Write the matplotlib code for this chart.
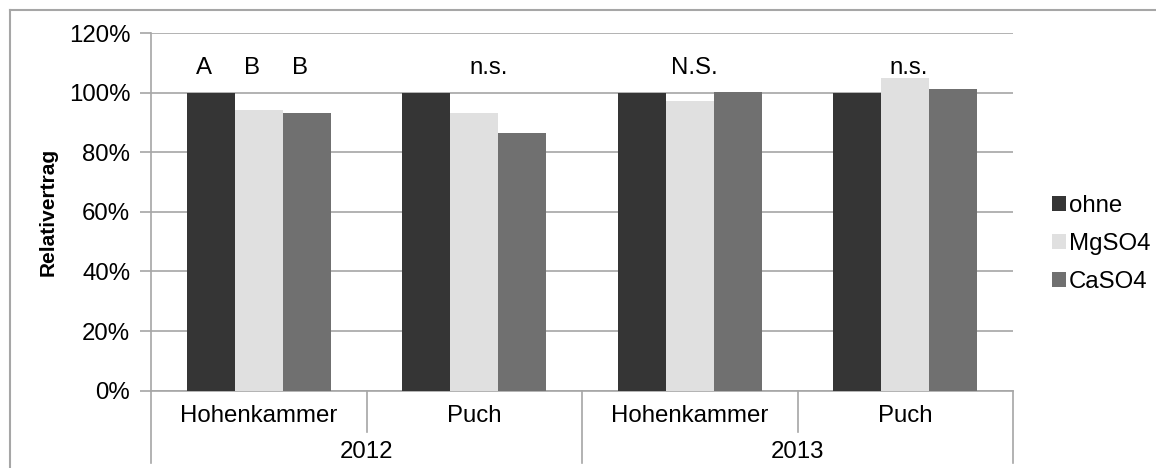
import numpy as np
import matplotlib
matplotlib.use('Agg')
import matplotlib.pyplot as plt
from matplotlib.ticker import FuncFormatter
from matplotlib.lines import Line2D

plt.rcParams['font.family'] = ['Liberation Sans', 'DejaVu Sans']

# daten
sites = ['Hohenkammer', 'Puch', 'Hohenkammer', 'Puch']
years = ['2012', '2013']
series = ['ohne', 'MgSO4', 'CaSO4']
ohne = [100.0, 100.0, 100.0, 100.0]
mgso4 = [94.2, 93.1, 97.3, 105.0]
caso4 = [93.1, 86.4, 100.2, 101.1]
letters_hk2012 = ['A', 'B', 'B']
group_labels = ['', 'n.s.', 'N.S.', 'n.s.']

colors = ['#353535', '#e0e0e0', '#707070']
grid_c = '#a6a6a6'
fs = 17.3

W, H = 1156, 468
fig = plt.figure(figsize=(W / 100, H / 100), dpi=100)
ax = fig.add_axes([151 / W, 1 - 390.7 / H, (1013 - 151) / W, (390.7 - 33) / H])

x = np.arange(len(sites))
bw = 0.223
for i, (vals, name) in enumerate(zip([ohne, mgso4, caso4], series)):
    ax.bar(x + (i - 1) * bw, vals, bw, color=colors[i], label=name, zorder=3, linewidth=0)

ax.set_ylim(0, 120)
ax.set_xlim(-0.5, 3.5)
ax.set_yticks(np.arange(0, 121, 20))
ax.yaxis.set_major_formatter(FuncFormatter(lambda v, p: '%d%%' % v))
ax.yaxis.grid(True, color=grid_c, linewidth=1.2, zorder=0)
ax.tick_params(axis='y', length=8, width=1.2, color=grid_c, labelsize=fs, pad=7)
ax.set_xticks(x)
ax.set_xticklabels(sites)
ax.tick_params(axis='x', length=0, labelsize=fs, pad=10)
for s in ['top', 'right']:
    ax.spines[s].set_visible(False)
for s in ['left', 'bottom']:
    ax.spines[s].set_color(grid_c)
    ax.spines[s].set_linewidth(1.2)

ax.set_ylabel('Relativertrag', fontsize=15, fontweight='bold', labelpad=8)

# buchstaben ueber den balken
for i, t in enumerate(letters_hk2012):
    ax.text(x[0] + (i - 1) * bw - 0.03, 108.3, t, ha='center', va='center', fontsize=fs)
offs = [0, 0.065, 0.02, 0.015]
for i, t in enumerate(group_labels):
    if t:
        ax.text(x[i] + offs[i], 108.3, t, ha='center', va='center', fontsize=fs)

# kategorie-trennlinien unten
tr = ax.get_xaxis_transform()
for xs, y0 in [(-0.5, -0.202), (0.5, -0.115), (1.5, -0.202), (2.5, -0.115), (3.5, -0.202)]:
    ax.add_line(Line2D([xs, xs], [0, y0], transform=tr, color=grid_c, lw=1.2, clip_on=False))
for i, yr in enumerate(years):
    ax.text(0.5 + 2 * i, -0.172, yr, transform=tr, ha='center', va='center', fontsize=fs)

# rahmen
fig.add_artist(Line2D([10 / W, 10 / W], [1 - 10 / H, 0], transform=fig.transFigure, color='#a6a6a6', lw=1.5))
fig.add_artist(Line2D([10 / W, 1], [1 - 10 / H, 1 - 10 / H], transform=fig.transFigure, color='#a6a6a6', lw=1.5))

fig.legend(loc='center left', bbox_to_anchor=(1042 / W, 1 - 244 / H), frameon=False,
           fontsize=fs, handlelength=0.6, handleheight=0.6, handletextpad=0.12,
           labelspacing=0.68, borderaxespad=0)

fig.savefig('out.png', dpi=100)
